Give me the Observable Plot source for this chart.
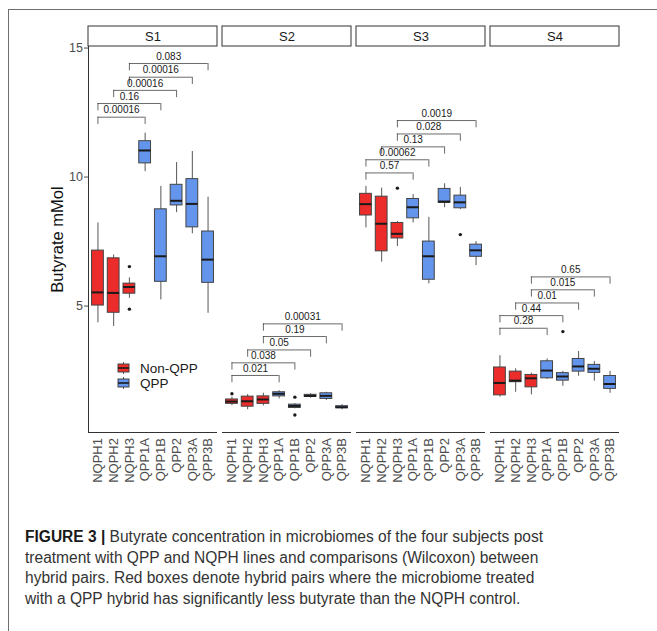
<!DOCTYPE html>
<html>
<head>
<meta charset="utf-8">
<script src="https://cdn.jsdelivr.net/npm/d3@7"></script>
<script src="https://cdn.jsdelivr.net/npm/@observablehq/plot@0.6"></script>
<style>
  body { margin: 0; background: #fff; }
  #page { position: relative; width: 657px; height: 631px; overflow: hidden; background: #fff;
          font-family: "Liberation Sans", Arial, sans-serif; }
  #frame { position: absolute; left: 8px; top: 9px; width: 700px; height: 700px;
           border: 1px solid #6e6e6e; box-sizing: border-box; z-index: 5; pointer-events: none; }
  #chart { position: absolute; left: 0; top: 0; }
  .leg { position: absolute; font-size: 13.5px; color: #1a1a1a; line-height: 1; }
  .legkey { position: absolute; }
  #caption { position: absolute; left: 25px; top: 527px; transform-origin: 0 0;
             font-size: 16px; line-height: 20.7px; color: #333; white-space: nowrap; }
  #caption span { display: inline-block; }
  #caption b { color: #1a1a1a; }
</style>
</head>
<body>
<div id="page">
  <div id="chart"></div>
  <div id="legend"></div>
  <div id="caption">
    <div><span class="first"><b>FIGURE 3 |</b> Butyrate concentration in microbiomes of the four subjects post</span></div>
    <div><span>treatment with QPP and NQPH lines and comparisons (Wilcoxon) between</span></div>
    <div><span>hybrid pairs. Red boxes denote hybrid pairs where the microbiome treated</span></div>
    <div><span>with a QPP hybrid has significantly less butyrate than the NQPH control.</span></div>
  </div>
  <div id="frame"></div>
</div>
<script>
// ---------- data ----------
const subjects = ["S1", "S2", "S3", "S4"];
const lines = ["NQPH1", "NQPH2", "NQPH3", "QPP1A", "QPP1B", "QPP2", "QPP3A", "QPP3B"];
const lineGroup = ["Non-QPP", "Non-QPP", "Non-QPP", "QPP", "QPP", "QPP", "QPP", "QPP"];
const groups = ["Non-QPP", "QPP"];
const groupColors = ["#EC2B2B", "#6495ED"];

// box statistics per line: [lower whisker, Q1, median, Q3, upper whisker]
const statsS1 = [
  [4.35, 5.02, 5.53, 7.15, 8.22],
  [4.21, 4.74, 5.51, 6.85, 6.98],
  [5.30, 5.48, 5.74, 5.87, 6.09],
  [10.21, 10.53, 11.03, 11.39, 11.70],
  [5.24, 5.94, 6.93, 8.75, 9.64],
  [8.62, 8.90, 9.08, 9.70, 10.56],
  [7.80, 8.05, 8.96, 9.92, 10.99],
  [4.72, 5.90, 6.80, 7.89, 9.22]
];
const statsS2 = [
  [1.14, 1.21, 1.30, 1.38, 1.47],
  [0.98, 1.10, 1.31, 1.49, 1.57],
  [1.13, 1.21, 1.38, 1.50, 1.62],
  [1.40, 1.50, 1.60, 1.66, 1.72],
  [1.02, 1.05, 1.13, 1.18, 1.22],
  [1.43, 1.48, 1.52, 1.56, 1.60],
  [1.34, 1.40, 1.52, 1.62, 1.66],
  [0.98, 1.04, 1.08, 1.12, 1.18]
];
const statsS3 = [
  [8.03, 8.51, 8.95, 9.35, 9.64],
  [6.70, 7.12, 8.19, 9.24, 9.57],
  [7.31, 7.62, 7.80, 8.22, 8.28],
  [8.22, 8.40, 8.83, 9.15, 9.32],
  [5.86, 6.02, 6.93, 7.50, 8.44],
  [8.81, 9.00, 9.05, 9.54, 9.74],
  [8.74, 8.79, 9.02, 9.28, 9.60],
  [6.57, 6.91, 7.16, 7.38, 7.50]
];
const statsS4 = [
  [1.47, 1.54, 2.02, 2.62, 3.08],
  [1.66, 2.05, 2.11, 2.46, 2.57],
  [1.56, 1.85, 2.20, 2.33, 2.40],
  [2.16, 2.20, 2.50, 2.86, 2.95],
  [1.89, 2.11, 2.27, 2.40, 2.47],
  [2.28, 2.46, 2.66, 2.95, 3.24],
  [2.09, 2.41, 2.57, 2.72, 2.85],
  [1.62, 1.79, 1.98, 2.29, 2.47]
];
// outliers: [subject, line, value]
const outlierPoints = [
  ["S1", "NQPH3", 6.53], ["S1", "NQPH3", 4.88],
  ["S2", "NQPH1", 1.60], ["S2", "QPP1B", 1.47], ["S2", "QPP1B", 0.78],
  ["S3", "NQPH3", 9.57], ["S3", "QPP3A", 7.77],
  ["S4", "QPP1B", 4.01]
];
// Wilcoxon comparisons
const comparisons = [["NQPH1", "QPP1A"], ["NQPH1", "QPP1B"], ["NQPH2", "QPP2"], ["NQPH3", "QPP3A"], ["NQPH3", "QPP3B"]];
const pS1 = ["0.00016", "0.16", "0.00016", "0.00016", "0.083"];
const pS2 = ["0.021", "0.038", "0.05", "0.19", "0.00031"];
const pS3 = ["0.57", "0.00062", "0.13", "0.028", "0.0019"];
const pS4 = ["0.28", "0.44", "0.01", "0.015", "0.65"];
const bracketYS1 = [12.32, 12.85, 13.36, 13.87, 14.40];
const bracketYS2 = [2.31, 2.80, 3.30, 3.82, 4.31];
const bracketYS3 = [10.16, 10.67, 11.17, 11.67, 12.19];
const bracketYS4 = [4.14, 4.63, 5.12, 5.63, 6.13];
const yTicks = [5, 10, 15];

// ---------- derived tables ----------
const stats = [statsS1, statsS2, statsS3, statsS4];
const pValues = [pS1, pS2, pS3, pS4];
const bracketY = [bracketYS1, bracketYS2, bracketYS3, bracketYS4];

const rows = subjects.flatMap((s, si) => stats[si].map((v, li) => ({
  subject: s, line: li, group: lineGroup[li], lo: v[0], q1: v[1], med: v[2], q3: v[3], hi: v[4]
})));
const outliers = outlierPoints.map(([s, l, v]) => ({subject: s, line: lines.indexOf(l), value: v}));
const brackets = subjects.flatMap((s, si) => comparisons.map((c, ci) => ({
  subject: s, x1: lines.indexOf(c[0]), x2: lines.indexOf(c[1]), y: bracketY[si][ci], label: pValues[si][ci]
})));

// ---------- layout ----------
const W = 657, H = 490;
const mTop = 46, mBottom = 58, mLeft = 87.5, mRight = 38;
const xDomain = [-0.6, lines.length - 1 + 0.6];
const yDomain = [0.1, 15.06];
const pxPerUnit = (H - mTop - mBottom) / (yDomain[1] - yDomain[0]);
const stripH = 20 / pxPerUnit;
const tip = 7.3 / pxPerUnit;
const half = 0.375;

const chart = Plot.plot({
  width: W, height: H,
  marginTop: mTop, marginBottom: mBottom, marginLeft: mLeft, marginRight: mRight,
  style: {fontFamily: "'Liberation Sans', Arial, sans-serif", background: "transparent", overflow: "visible"},
  fx: {domain: subjects, paddingInner: 5 / 134, paddingOuter: 0, axis: null, label: null},
  x: {domain: xDomain, axis: null},
  y: {domain: yDomain, axis: null},
  color: {domain: groups, range: groupColors},
  marks: [
    // facet strips
    Plot.rect(subjects, {fx: d => d, y1: () => yDomain[1], y2: () => yDomain[1] + stripH,
      fill: "white", stroke: "#333", strokeWidth: 1}),
    Plot.text(subjects, {fx: d => d, text: d => d, frameAnchor: "top", lineAnchor: "middle", dy: -10,
      fontSize: 13, fill: "#1a1a1a"}),
    // axis lines
    Plot.ruleY([yDomain[0]], {stroke: "#333", strokeWidth: 1}),
    Plot.ruleX([xDomain[0]], {fx: () => "S1", stroke: "#333", strokeWidth: 1}),
    // boxplots
    Plot.ruleX(rows, {fx: "subject", x: "line", y1: "lo", y2: "hi", stroke: "#444", strokeWidth: 0.9}),
    Plot.rect(rows, {fx: "subject", x1: d => d.line - half, x2: d => d.line + half, y1: "q1", y2: "q3",
      fill: "group", stroke: "#444", strokeWidth: 1}),
    Plot.ruleY(rows, {fx: "subject", y: "med", x1: d => d.line - half, x2: d => d.line + half,
      stroke: "#1a1a1a", strokeWidth: 2}),
    Plot.dot(outliers, {fx: "subject", x: "line", y: "value", r: 1.7, fill: "#1a1a1a", stroke: "none"}),
    // comparison brackets
    Plot.ruleY(brackets, {fx: "subject", y: "y", x1: "x1", x2: "x2", stroke: "#444", strokeWidth: 0.8}),
    Plot.ruleX(brackets, {fx: "subject", x: "x1", y1: d => d.y - tip, y2: "y", stroke: "#444", strokeWidth: 0.8}),
    Plot.ruleX(brackets, {fx: "subject", x: "x2", y1: d => d.y - tip, y2: "y", stroke: "#444", strokeWidth: 0.8}),
    Plot.text(brackets, {fx: "subject", x: d => (d.x1 + d.x2) / 2, y: "y", text: "label", dy: -7,
      fontSize: 10, fill: "#1a1a1a"}),
    // axes
    Plot.axisY({ticks: yTicks, tickSize: 4, tickPadding: 1.5, fontSize: 12.5, label: null, color: "#4d4d4d"}),
    Plot.axisX({ticks: d3.range(lines.length), tickFormat: i => lines[i], tickRotate: -90, tickSize: 0,
      tickPadding: 5.5, fontSize: 13, label: null, color: "#4d4d4d"}),
    Plot.text(["Butyrate mMol"], {fx: () => "S1", text: d => d, frameAnchor: "left", textAnchor: "middle",
      lineAnchor: "middle", rotate: -90, dx: -30.5, fontSize: 16.5, fill: "#111"})
  ]
});
document.getElementById("chart").appendChild(chart);

// ---------- legend ----------
const legend = document.getElementById("legend");
const legendTop = [362.5, 377.5];
groups.forEach((g, i) => {
  const key = document.createElementNS("http://www.w3.org/2000/svg", "svg");
  key.setAttribute("width", 14); key.setAttribute("height", 12);
  key.setAttribute("class", "legkey");
  key.style.left = "117px"; key.style.top = (legendTop[i] - 1) + "px";
  key.innerHTML =
    `<line x1="6.5" x2="6.5" y1="0" y2="12" stroke="#444" stroke-width="0.9"/>` +
    `<rect x="1" y="2" width="11" height="8" fill="${groupColors[i]}" stroke="#444" stroke-width="1"/>` +
    `<line x1="1" x2="12" y1="6" y2="6" stroke="#1a1a1a" stroke-width="1.6"/>`;
  legend.appendChild(key);
  const t = document.createElement("div");
  t.className = "leg";
  t.textContent = g;
  t.style.left = "140px";
  t.style.top = (legendTop[i] - 1) + "px";
  legend.appendChild(t);
});

// ---------- caption fit ----------
const cap = document.getElementById("caption");
const w1 = cap.querySelector(".first").getBoundingClientRect().width;
cap.style.transform = `scaleX(${518 / w1})`;
</script>
</body>
</html>
